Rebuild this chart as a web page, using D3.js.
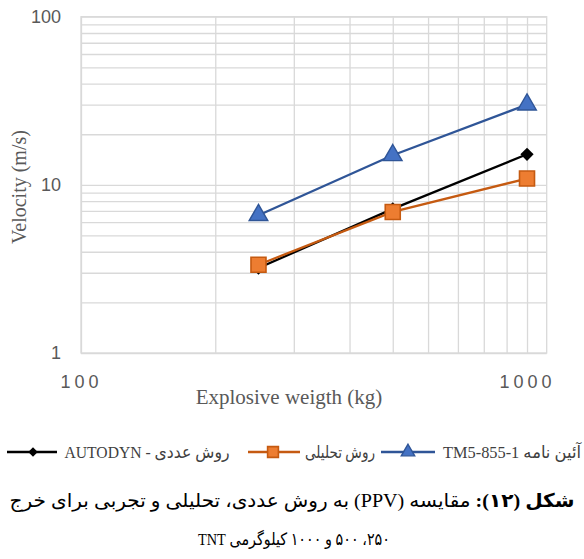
<!DOCTYPE html>
<html>
<head>
<meta charset="utf-8">
<script src="https://cdn.jsdelivr.net/npm/d3@7"></script>
<style>
  body { margin: 0; background: #fff; }
  svg { display: block; }
</style>
</head>
<body>
<div id="chart"></div>
<script>
// charge weights (kg) and peak particle velocities (m/s)
const weights = [250, 500, 1000];
const autodyn = [3.2, 7.2, 15.2];
const analytic = [3.35, 6.9, 10.9];
const tm5 = [6.6, 15, 30];

const yTickLabels = [1, 10, 100];
const xTickLabels = [100, 1000];
const legendNames = ["روش عددی - AUTODYN", "روش تحلیلی", "آئین نامه TM5-855-1"];

const W = 584, H = 559;
const pLeft = 81, pRight = 546.7, pTop = 16.7, pBottom = 353;

const svg = d3.select("#chart").append("svg")
    .attr("width", W).attr("height", H);

const x = d3.scaleLog().domain([100, 1107]).range([pLeft, pRight]);
const y = d3.scaleLog().domain([1, 100]).range([pBottom, pTop]);

// gridlines
const yGridVals = d3.range(1, 10).concat(d3.range(10, 101, 10));
const xGridVals = d3.range(100, 1001, 100);

const gridY = svg.append("g")
    .attr("transform", `translate(${pLeft},0)`)
    .call(d3.axisLeft(y).tickValues(yGridVals).tickSize(-(pRight - pLeft)).tickFormat(""));
const gridX = svg.append("g")
    .attr("transform", `translate(0,${pBottom})`)
    .call(d3.axisBottom(x).tickValues(xGridVals).tickSize(-(pBottom - pTop)).tickFormat(""));
[gridY, gridX].forEach(g => {
    g.select(".domain").remove();
    g.selectAll("line").attr("stroke", "#d9d9d9").attr("stroke-width", 1.3);
});
svg.append("rect")
    .attr("x", pLeft).attr("y", pTop)
    .attr("width", pRight - pLeft).attr("height", pBottom - pTop)
    .attr("fill", "none").attr("stroke", "#d9d9d9").attr("stroke-width", 1.3);

// tick labels
const yAxis = svg.append("g")
    .attr("transform", `translate(${pLeft},0)`)
    .call(d3.axisLeft(y).tickValues(yTickLabels).tickSize(0).tickPadding(20).tickFormat(d3.format("d")));
const xAxis = svg.append("g")
    .attr("transform", `translate(0,${pBottom})`)
    .call(d3.axisBottom(x).tickValues(xTickLabels).tickSize(0).tickPadding(22).tickFormat(d3.format("d")));
[yAxis, xAxis].forEach(g => {
    g.select(".domain").remove();
    g.selectAll("text")
        .attr("fill", "#595959")
        .style("font-family", "'Liberation Sans', Arial, sans-serif")
        .style("font-size", "18px");
});
xAxis.selectAll("text").style("letter-spacing", "4px");

// axis titles
svg.append("text")
    .attr("x", 289).attr("y", 404)
    .attr("text-anchor", "middle")
    .attr("fill", "#595959")
    .style("font-family", "'Liberation Serif', 'Times New Roman', serif")
    .style("font-size", "21px")
    .text("Explosive weigth (kg)");
svg.append("text")
    .attr("transform", "translate(26,187) rotate(-90)")
    .attr("text-anchor", "middle")
    .attr("fill", "#595959")
    .style("font-family", "'Liberation Serif', 'Times New Roman', serif")
    .style("font-size", "20px")
    .text("Velocity (m/s)");

// series
const series = [
    { values: autodyn, line: "#000000", fill: "#000000", stroke: "#000000", symbol: "diamond" },
    { values: analytic, line: "#C55A11", fill: "#ED7D31", stroke: "#C55A11", symbol: "square" },
    { values: tm5, line: "#2F5597", fill: "#4472C4", stroke: "#2F5597", symbol: "triangle" }
];

function marker(g, s, k) {
    if (s.symbol === "diamond") {
        g.append("path")
            .attr("d", d3.symbol(d3.symbolSquare, 88 * k * k)())
            .attr("transform", "rotate(45)")
            .attr("fill", s.fill);
    } else if (s.symbol === "square") {
        g.append("path")
            .attr("d", d3.symbol(d3.symbolSquare, 225 * k * k)())
            .attr("fill", s.fill).attr("stroke", s.stroke).attr("stroke-width", 1.6);
    } else {
        g.append("path")
            .attr("d", d3.symbol(d3.symbolTriangle, 150 * k * k)())
            .attr("fill", s.fill).attr("stroke", s.stroke).attr("stroke-width", 1.4);
    }
}

const line = d3.line().x(d => x(d[0])).y(d => y(d[1]));

series.forEach(s => {
    const pts = weights.map((w, i) => [w, s.values[i]]);
    svg.append("path")
        .attr("d", line(pts))
        .attr("fill", "none")
        .attr("stroke", s.line)
        .attr("stroke-width", 2.3);
    pts.forEach(p => {
        const g = svg.append("g").attr("transform", `translate(${x(p[0])},${y(p[1])})`);
        marker(g, s, 1);
    });
});

// legend
const legendY = 452;
const legendItems = [
    { lx0: 7, lx1: 57, mx: 33, tx: 147, tw: 165 },
    { lx0: 248, lx1: 300, mx: 273, tx: 340, tw: 70 },
    { lx0: 381, lx1: 435, mx: 408, tx: 512, tw: 138 }
];
legendItems.forEach((it, i) => {
    const s = series[i];
    svg.append("line")
        .attr("x1", it.lx0).attr("x2", it.lx1)
        .attr("y1", legendY).attr("y2", legendY)
        .attr("stroke", s.line).attr("stroke-width", 2.3);
    const g = svg.append("g").attr("transform", `translate(${it.mx},${legendY})`);
    marker(g, s, 0.72);
    svg.append("text")
        .attr("x", it.tx).attr("y", legendY + 6)
        .attr("direction", "rtl")
        .attr("text-anchor", "middle")
        .attr("textLength", it.tw)
        .attr("lengthAdjust", "spacingAndGlyphs")
        .attr("fill", "#404040")
        .style("font-family", "'Liberation Serif', 'DejaVu Sans', serif")
        .style("font-size", "17px")
        .text(legendNames[i]);
});

// caption
const cap = svg.append("g")
    .style("font-family", "'Liberation Serif', 'DejaVu Sans', serif")
    .attr("fill", "#000");
const c1 = cap.append("text")
    .attr("x", 292).attr("y", 507)
    .attr("direction", "rtl")
    .attr("text-anchor", "middle")
    .attr("textLength", 565)
    .attr("lengthAdjust", "spacingAndGlyphs")
    .style("font-size", "19px");
c1.append("tspan").style("font-weight", "bold").text("شکل (۱۲): ");
c1.append("tspan").text("مقایسه (PPV) به روش عددی، تحلیلی و تجربی برای خرج");
cap.append("text")
    .attr("x", 294).attr("y", 545)
    .attr("direction", "rtl")
    .attr("text-anchor", "middle")
    .attr("textLength", 192)
    .attr("lengthAdjust", "spacingAndGlyphs")
    .style("font-size", "17px")
    .text("۲۵۰، ۵۰۰ و ۱۰۰۰ کیلوگرمی TNT");
</script>
</body>
</html>
